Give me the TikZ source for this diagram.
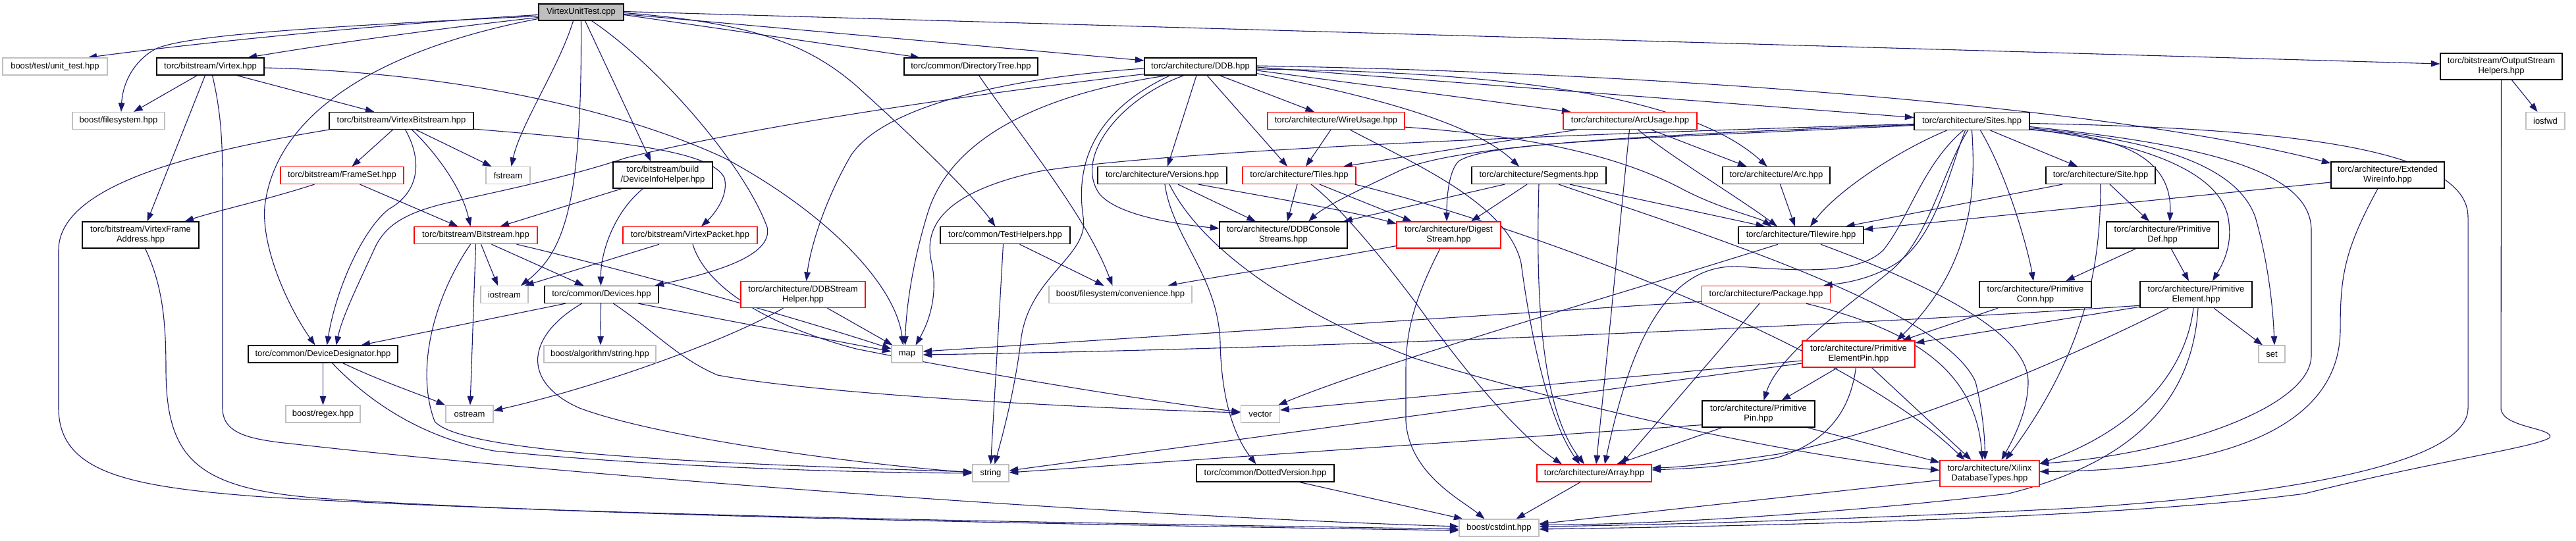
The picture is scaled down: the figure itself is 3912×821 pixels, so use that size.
\documentclass[tikz,border=0pt]{standalone}
\usepackage{fontspec}
\setmainfont{Liberation Sans}
\usetikzlibrary{arrows.meta,calc}
\pgfdeclarelayer{bg}
\pgfsetlayers{bg,main}
\definecolor{edgecol}{RGB}{25,25,112}
\definecolor{syscol}{RGB}{191,191,191}
\definecolor{rootfill}{RGB}{191,191,191}
\newcommand\fs{\fontsize{6.5}{7.5}\selectfont}
\newcommand\mynode[7]{\node[#1,minimum width=#5*0.5pt,minimum height=#6*0.5pt] (#2) at (#3,#4) {#7};}
\tikzset{
 nb/.style={draw, line width=0.6pt, fill=white, inner sep=0pt, align=center, font=\fs},
 blk/.style={nb, draw=black},
 redb/.style={nb, draw=red},
 sysb/.style={nb, draw=syscol},
 rootb/.style={nb, draw=black, fill=rootfill},
 e/.style={draw=edgecol, line width=0.55pt, -{Triangle[length=6.8pt,width=4.8pt]}}
}
\begin{document}
\begin{tikzpicture}[x=0.5pt,y=-0.5pt]
\useasboundingbox (0,0) rectangle (3912,821);
\mynode{rootb}{root}{882.5}{18.5}{129}{25}{VirtexUnitTest.cpp}
\mynode{sysb}{unit}{83.5}{101}{159}{26}{boost/test/unit\_test.hpp}
\mynode{blk}{virtex}{319.5}{101}{163}{26}{torc/bitstream/Virtex.hpp}
\mynode{blk}{dirtree}{1474.5}{101}{203}{26}{torc/common/DirectoryTree.hpp}
\mynode{blk}{ddb}{1823}{101}{170}{26}{torc/architecture/DDB.hpp}
\mynode{blk}{osh}{3798.5}{101}{185}{40}{torc/bitstream/OutputStream\\Helpers.hpp}
\mynode{sysb}{bfs}{180}{183.5}{140}{26}{boost/filesystem.hpp}
\mynode{blk}{vbs}{609.5}{183.5}{219}{26}{torc/bitstream/VirtexBitstream.hpp}
\mynode{redb}{wu}{2029}{183.5}{208}{26}{torc/architecture/WireUsage.hpp}
\mynode{redb}{au}{2475.5}{183.5}{203}{26}{torc/architecture/ArcUsage.hpp}
\mynode{blk}{sites}{2994.5}{184.5}{175}{26}{torc/architecture/Sites.hpp}
\mynode{sysb}{iosfwd}{3865.5}{183.5}{59}{26}{iosfwd}
\mynode{redb}{frameset}{519.5}{266.5}{187}{26}{torc/bitstream/FrameSet.hpp}
\mynode{sysb}{fstream}{771.5}{266.5}{67}{26}{fstream}
\mynode{blk}{dih}{1006.5}{266}{151}{40}{torc/bitstream/build\\/DeviceInfoHelper.hpp}
\mynode{blk}{versions}{1765}{266.5}{196}{26}{torc/architecture/Versions.hpp}
\mynode{redb}{tiles}{1973}{266.5}{172}{26}{torc/architecture/Tiles.hpp}
\mynode{blk}{segments}{2337}{266.5}{204}{26}{torc/architecture/Segments.hpp}
\mynode{blk}{arc}{2697.5}{266.5}{163}{26}{torc/architecture/Arc.hpp}
\mynode{blk}{site}{3190}{266.5}{166}{26}{torc/architecture/Site.hpp}
\mynode{blk}{ewi}{3626}{266}{172}{40}{torc/architecture/Extended\\WireInfo.hpp}
\mynode{blk}{vfa}{213.5}{357}{177}{40}{torc/bitstream/VirtexFrame\\Address.hpp}
\mynode{redb}{bitstream}{722.5}{357.6}{187}{26}{torc/bitstream/Bitstream.hpp}
\mynode{redb}{vpacket}{1048}{357.6}{204}{26}{torc/bitstream/VirtexPacket.hpp}
\mynode{blk}{testh}{1526.5}{357.6}{197}{26}{torc/common/TestHelpers.hpp}
\mynode{blk}{ddbcs}{1949}{357}{194}{40}{torc/architecture/DDBConsole\\Streams.hpp}
\mynode{redb}{digest}{2200}{357}{158}{40}{torc/architecture/Digest\\Stream.hpp}
\mynode{blk}{tilewire}{2735}{357.6}{190}{26}{torc/architecture/Tilewire.hpp}
\mynode{blk}{pdef}{3284}{357}{170}{40}{torc/architecture/Primitive\\Def.hpp}
\mynode{sysb}{iostream}{766}{447.6}{72}{26}{iostream}
\mynode{blk}{devices}{913.5}{447.6}{173}{26}{torc/common/Devices.hpp}
\mynode{redb}{ddbsh}{1219.5}{447.6}{189}{40}{torc/architecture/DDBStream\\Helper.hpp}
\mynode{sysb}{conv}{1701.5}{447.6}{217}{26}{boost/filesystem/convenience.hpp}
\mynode{redb}{package}{2682}{447.6}{195}{26}{torc/architecture/Package.hpp}
\mynode{blk}{pconn}{3091}{447.6}{170}{40}{torc/architecture/Primitive\\Conn.hpp}
\mynode{blk}{pelem}{3335}{447.6}{170}{40}{torc/architecture/Primitive\\Element.hpp}
\mynode{blk}{devdes}{490.5}{538}{227}{26}{torc/common/DeviceDesignator.hpp}
\mynode{sysb}{balg}{911}{538}{170}{26}{boost/algorithm/string.hpp}
\mynode{sysb}{map}{1377.5}{538}{47}{26}{map}
\mynode{redb}{pepin}{2822.5}{538}{171}{40}{torc/architecture/Primitive\\ElementPin.hpp}
\mynode{sysb}{set}{3450}{538}{40}{26}{set}
\mynode{sysb}{regex}{490.5}{629}{113}{26}{boost/regex.hpp}
\mynode{sysb}{ostream}{713}{629}{72}{26}{ostream}
\mynode{sysb}{vector}{1914}{629}{59}{26}{vector}
\mynode{blk}{ppin}{2670.5}{629}{171}{40}{torc/architecture/Primitive\\Pin.hpp}
\mynode{sysb}{string}{1504.5}{719}{55}{26}{string}
\mynode{blk}{dotted}{1921.5}{719}{209}{26}{torc/common/DottedVersion.hpp}
\mynode{redb}{array}{2421}{719}{174}{26}{torc/architecture/Array.hpp}
\mynode{redb}{xdt}{3021.5}{719.5}{151}{40}{torc/architecture/Xilinx\\DatabaseTypes.hpp}
\mynode{sysb}{cstdint}{2276.5}{802}{121}{26}{boost/cstdint.hpp}
\begin{pgfonlayer}{bg}
% root
\draw[e] ($(root.west)+(0,4)$) .. controls (600,35) and (300,65) .. ($(unit.north)+(50,0)$);
\draw[e] ($(root.west)+(0,6)$) .. controls (450,42) and (275,55) .. (235,75) .. controls (200,95) and (186,130) .. ($(bfs.north)+(4,0)$);
\draw[e] ($(root.west)+(0,8)$) .. controls (650,45) and (480,70) .. ($(virtex.north)+(57,0)$);
\draw[e] ($(root.west)+(0,10)$) .. controls (600,70) and (420,160) .. (402,314) .. controls (397,380) and (440,470) .. ($(devdes.north)+(-12,0)$);
\draw[e] ($(root.south)+(-12,0)$) .. controls (850,100) and (790,190) .. ($(fstream.north)+(5,0)$);
\draw[e] (root.south) .. controls (884,300) and (860,380) .. ($(iostream.north)+(25,0)$);
\draw[e] ($(root.south)+(6,0)$) -- ($(dih.north)+(-18,0)$);
\draw[e] ($(root.south)+(16,0)$) .. controls (1000,100) and (1130,250) .. (1165,345) .. controls (1175,390) and (1080,415) .. ($(devices.north)+(81,0)$);
\draw[e] ($(root.east)+(0,1)$) .. controls (1150,35) and (1230,70) .. (1300,130) .. controls (1400,220) and (1480,300) .. ($(testh.north)+(-15,0)$);
\draw[e] ($(root.east)+(0,4)$) -- ($(dirtree.north)+(-78,0)$);
\draw[e] ($(root.east)+(0,3)$) -- ($(ddb.west)+(0,-9)$);
\draw[e] ($(root.east)+(0,-1)$) -- ($(osh.west)+(0,-4)$);
% virtex
\draw[e] ($(virtex.south)+(-20,0)$) -- ($(bfs.north)+(23,0)$);
\draw[e] ($(virtex.south)+(-8,0)$) -- ($(vfa.north)+(10,0)$);
\draw[e] ($(virtex.south)+(3,0)$) .. controls (338,180) and (338,230) .. (338,300) -- (338,620) .. controls (338,660) and (380,668) .. (450,675) .. controls (800,715) and (1600,780) .. ($(cstdint.west)+(0,-2)$);
\draw[e] ($(virtex.south)+(40,0)$) -- ($(vbs.north)+(-41,0)$);
\draw[e] ($(virtex.east)+(0,2)$) .. controls (700,110) and (950,170) .. (1100,240) .. controls (1250,320) and (1360,430) .. ($(map.north)+(-6,0)$);
% vbs
\draw[e] (vbs.south west) .. controls (300,230) and (89,280) .. (89,380) -- (89,620) .. controls (89,720) and (200,740) .. (400,755) .. controls (900,785) and (1700,795) .. ($(cstdint.west)+(0,2)$);
\draw[e] ($(vbs.south)+(-13,0)$) -- ($(frameset.north)+(15,0)$);
\draw[e] ($(vbs.south)+(6,0)$) .. controls (640,240) and (640,290) .. (590,318) .. controls (550,350) and (510,440) .. ($(devdes.north)+(6,0)$);
\draw[e] ($(vbs.south)+(16,0)$) .. controls (655,225) and (700,280) .. ($(bitstream.north)+(-8,0)$);
\draw[e] ($(vbs.south)+(22,0)$) -- ($(fstream.north)+(-25,0)$);
\draw[e] ($(vbs.south east)+(0,-1)$) .. controls (950,215) and (1080,230) .. (1100,270) .. controls (1108,300) and (1080,330) .. ($(vpacket.north)+(17,0)$);
% frameset
\draw[e] ($(frameset.south)+(-42,0)$) .. controls (400,305) and (330,320) .. ($(vfa.north)+(67,0)$);
\draw[e] ($(frameset.south)+(27,0)$) -- ($(bitstream.north)+(-27,0)$);
% vfa
\draw[e] ($(vfa.south)+(7,0)$) .. controls (245,430) and (252,480) .. (252,560) .. controls (252,700) and (300,745) .. (500,758) .. controls (900,785) and (1700,798) .. ($(cstdint.west)+(0,4)$);
% bitstream
\draw[e] ($(bitstream.south)+(-8,0)$) .. controls (660,450) and (630,560) .. (660,640) .. controls (700,690) and (1100,705) .. ($(string.west)+(0,-2)$);
\draw[e] (bitstream.south) -- ($(ostream.north)+(1,0)$);
\draw[e] ($(bitstream.south)+(8,0)$) -- ($(iostream.north)+(-10,0)$);
\draw[e] ($(bitstream.south)+(24,0)$) -- ($(devices.north)+(-27,0)$);
\draw[e] ($(bitstream.south)+(62,0)$) .. controls (950,410) and (1200,480) .. ($(map.west)+(0,-8)$);
% devices
\draw[e] ($(devices.south)+(-55,0)$) -- ($(devdes.north)+(58,0)$);
\draw[e] ($(devices.south)+(-30,0)$) .. controls (800,510) and (790,580) .. (880,620) .. controls (1000,665) and (1300,705) .. ($(string.west)+(0,-1)$);
\draw[e] ($(devices.south)+(-1,0)$) -- ($(balg.north)+(1,0)$);
\draw[e] ($(devices.south)+(18,0)$) .. controls (990,500) and (1030,545) .. (1090,570) .. controls (1250,600) and (1650,620) .. ($(vector.west)+(0,-2)$);
\draw[e] ($(devices.south)+(56,0)$) -- ($(map.west)+(0,-4)$);
% devdes
\draw[e] (devdes.south) -- (regex.north);
\draw[e] ($(devdes.south)+(30,0)$) .. controls (580,580) and (640,600) .. ($(ostream.north)+(-37,0)$);
\draw[e] ($(devdes.south)+(14,0)$) .. controls (560,610) and (640,665) .. (750,685) .. controls (1000,710) and (1300,718) .. (string.west);
% dih
\draw[e] ($(dih.south)+(-62,0)$) -- ($(bitstream.north)+(37,0)$);
\draw[e] ($(dih.south)+(-30,0)$) .. controls (935,320) and (912,380) .. ($(devices.north)+(-1,0)$);
% vpacket
\draw[e] ($(vpacket.south)+(-47,0)$) -- ($(iostream.north)+(31,0)$);
\draw[e] ($(vpacket.south)+(4,0)$) .. controls (1070,430) and (1150,490) .. (1300,530) .. controls (1500,570) and (1750,610) .. ($(vector.west)+(0,-3)$);
% ddbsh
\draw[e] ($(ddbsh.south)+(37,0)$) -- ($(map.north)+(-22,0)$);
\draw[e] ($(ddbsh.south)+(-30,0)$) .. controls (1100,520) and (900,590) .. ($(ostream.east)+(0,-5)$);
% testh
\draw[e] ($(testh.south)+(-3,0)$) -- (string.north);
\draw[e] ($(testh.south)+(22,0)$) -- ($(conv.north)+(-25,0)$);
% dirtree
\draw[e] ($(dirtree.south)+(12,0)$) .. controls (1560,220) and (1650,330) .. ($(conv.north)+(-12,0)$);
% ddb
\draw[e] ($(ddb.south west)+(0,-2)$) .. controls (1500,140) and (1150,190) .. (950,240) .. controls (860,270) and (760,290) .. (676,309) .. controls (610,325) and (585,345) .. (570,375) .. controls (545,430) and (520,480) .. ($(devdes.north)+(20,0)$);
\draw[e] ($(ddb.west)+(0,3)$) .. controls (1500,120) and (1330,170) .. (1290,240) .. controls (1250,310) and (1230,380) .. ($(ddbsh.north)+(5,0)$);
\draw[e] ($(ddb.south)+(-50,0)$) .. controls (1600,140) and (1450,200) .. (1410,320) .. controls (1385,400) and (1376,470) .. ($(map.north)+(-3,0)$);
\draw[e] ($(ddb.south)+(-46,0)$) .. controls (1680,160) and (1630,230) .. (1645,330) .. controls (1655,390) and (1560,420) .. (1550,520) .. controls (1540,600) and (1520,670) .. ($(string.north)+(6,0)$);
\draw[e] ($(ddb.south)+(-25,0)$) .. controls (1700,150) and (1630,240) .. (1670,295) .. controls (1700,330) and (1800,342) .. ($(ddbcs.west)+(0,-10)$);
\draw[e] ($(ddb.south)+(-6,0)$) -- ($(versions.north)+(8,0)$);
\draw[e] ($(ddb.south)+(10,0)$) -- ($(tiles.north)+(-18,0)$);
\draw[e] ($(ddb.south)+(29,0)$) -- ($(wu.north)+(-33,0)$);
\draw[e] ($(ddb.south east)+(0,-3)$) .. controls (2050,140) and (2230,180) .. ($(segments.north)+(-30,0)$);
\draw[e] ($(ddb.east)+(0,6)$) -- ($(au.north)+(-90,0)$);
\draw[e] ($(ddb.east)+(0,4)$) .. controls (2200,108) and (2550,130) .. ($(arc.north)+(-14,0)$);
\draw[e] ($(ddb.east)+(0,1)$) -- ($(sites.west)+(0,-6)$);
\draw[e] ($(ddb.east)+(0,-1)$) .. controls (2500,110) and (3200,160) .. ($(ewi.west)+(0,-18)$);
% wu
\draw[e] ($(wu.south)+(-8,0)$) -- ($(tiles.north)+(10,0)$);
\draw[e] ($(wu.south)+(21,0)$) .. controls (2150,250) and (2290,310) .. (2310,400) .. controls (2330,550) and (2360,650) .. ($(array.north)+(-22,0)$);
\draw[e] ($(wu.south east)+(0,-4)$) .. controls (2300,205) and (2450,230) .. (2560,290) .. controls (2620,320) and (2670,330) .. ($(tilewire.north)+(-45,0)$);
% tiles
\draw[e] ($(tiles.south)+(-3,0)$) -- ($(ddbcs.north)+(6,0)$);
\draw[e] ($(tiles.south)+(31,0)$) -- ($(digest.north)+(-56,0)$);
\draw[e] ($(tiles.south)+(18,0)$) .. controls (2030,310) and (2090,380) .. (2150,460) .. controls (2250,600) and (2320,670) .. ($(array.north)+(-49,0)$);
\draw[e] ($(tiles.south east)+(-2,0)$) .. controls (2300,340) and (2800,520) .. ($(xdt.north)+(-38,0)$);
% segments
\draw[e] ($(segments.south)+(-52,0)$) -- ($(ddbcs.north)+(91,0)$);
\draw[e] ($(segments.south)+(-18,0)$) -- ($(digest.north)+(34,0)$);
\draw[e] (segments.south) .. controls (2332,450) and (2340,620) .. ($(array.north)+(-15,0)$);
\draw[e] ($(segments.south)+(47,0)$) -- ($(tilewire.north)+(-55,0)$);
\draw[e] ($(segments.south)+(30,0)$) .. controls (2600,360) and (2950,470) .. (3000,580) .. controls (3010,620) and (3014,660) .. ($(xdt.north)+(-7,0)$);
% au
\draw[e] ($(au.south)+(-81,0)$) -- ($(tiles.north)+(67,0)$);
\draw[e] ($(au.south)+(-1,0)$) -- ($(array.north)+(3,0)$);
\draw[e] ($(au.south)+(12,0)$) .. controls (2540,240) and (2640,300) .. ($(tilewire.north)+(-36,0)$);
\draw[e] ($(au.south)+(32,0)$) -- ($(arc.north)+(-45,0)$);
% arc
\draw[e] ($(arc.south)+(6,0)$) -- ($(tilewire.north)+(-9,0)$);
% tilewire
\draw[e] ($(tilewire.south)+(-35,0)$) .. controls (2450,450) and (2100,550) .. ($(vector.north east)+(-3,0)$);
\draw[e] ($(tilewire.south)+(30,0)$) .. controls (2950,440) and (3080,510) .. (3080,580) .. controls (3080,630) and (3050,680) .. ($(xdt.north)+(18,0)$);
% digest
\draw[e] ($(digest.south west)+(0,-4)$) .. controls (1950,405) and (1850,420) .. ($(conv.north)+(72,0)$);
\draw[e] ($(digest.south)+(-13,0)$) .. controls (2150,450) and (2135,500) .. (2135,560) -- (2135,640) .. controls (2140,720) and (2220,760) .. ($(cstdint.north)+(-22,0)$);
% versions
\draw[e] ($(versions.south)+(24,0)$) -- ($(ddbcs.north)+(-42,0)$);
\draw[e] ($(versions.south)+(55,0)$) .. controls (1900,295) and (2050,320) .. ($(digest.west)+(0,-17)$);
\draw[e] ($(versions.south)+(4,0)$) .. controls (1780,360) and (1850,420) .. (1853,520) .. controls (1855,620) and (1880,670) .. ($(dotted.north)+(-14,0)$);
\draw[e] ($(versions.south)+(11,0)$) .. controls (1820,370) and (1950,470) .. (2150,545) .. controls (2400,620) and (2700,690) .. ($(xdt.west)+(0,-5)$);
% dotted, array
\draw[e] ($(dotted.south)+(52,0)$) -- ($(cstdint.north)+(-55,0)$);
\draw[e] ($(array.south)+(-21,0)$) -- ($(cstdint.north)+(26,0)$);
% sites
\draw[e] ($(sites.west)+(0,5)$) .. controls (2500,205) and (2200,220) .. (2120,262) .. controls (2060,290) and (2010,315) .. ($(ddbcs.north)+(38,0)$);
\draw[e] ($(sites.west)+(0,6)$) .. controls (2500,210) and (2260,215) .. (2215,245) .. controls (2200,260) and (2197,300) .. ($(digest.north)+(-3,0)$);
\draw[e] ($(sites.west)+(0,4)$) .. controls (2500,200) and (1800,225) .. (1580,260) .. controls (1440,290) and (1400,340) .. (1415,400) .. controls (1425,450) and (1410,490) .. ($(map.north)+(13,0)$);
\draw[e] ($(sites.south)+(-38,0)$) .. controls (2880,230) and (2790,290) .. ($(tilewire.north)+(14,0)$);
\draw[e] ($(sites.south)+(-13,0)$) .. controls (2920,250) and (2900,330) .. (2860,380) .. controls (2820,420) and (2720,410) .. (2640,405) .. controls (2520,400) and (2470,550) .. ($(array.north)+(16,0)$);
\draw[e] ($(sites.south)+(-10,0)$) .. controls (2960,260) and (2940,360) .. (2880,400) .. controls (2840,425) and (2800,430) .. ($(package.north)+(87,0)$);
\draw[e] ($(sites.south)+(-6,0)$) .. controls (2950,260) and (2930,360) .. (2873,410) .. controls (2800,470) and (2700,540) .. ($(ppin.north)+(8,0)$);
\draw[e] (sites.south) .. controls (3000,280) and (3000,400) .. ($(pepin.north)+(58,0)$);
\draw[e] ($(sites.south)+(13,0)$) .. controls (3050,270) and (3080,380) .. ($(pconn.north)+(-3,0)$);
\draw[e] ($(sites.south)+(28,0)$) -- ($(site.north)+(-35,0)$);
\draw[e] ($(sites.south east)+(0,-1)$) .. controls (3200,205) and (3300,230) .. ($(pdef.north)+(11,0)$);
\draw[e] ($(sites.south east)+(0,-2)$) .. controls (3280,220) and (3380,270) .. (3385,340) .. controls (3390,380) and (3370,410) .. ($(pelem.north)+(25,0)$);
\draw[e] ($(sites.east)+(0,10)$) .. controls (3300,215) and (3400,260) .. (3425,330) .. controls (3445,400) and (3452,470) .. ($(set.north)+(4,0)$);
\draw[e] ($(sites.east)+(0,8)$) .. controls (3350,220) and (3510,260) .. (3510,350) -- (3510,540) .. controls (3510,620) and (3300,690) .. ($(xdt.east)+(0,-15)$);
\draw[e] ($(sites.east)+(0,3)$) .. controls (3500,195) and (3748,230) .. (3748,330) -- (3748,620) .. controls (3748,700) and (3500,750) .. (3150,772) .. controls (2800,790) and (2500,798) .. ($(cstdint.east)+(0,-2)$);
% site
\draw[e] ($(site.south)+(-58,0)$) -- ($(tilewire.north)+(68,0)$);
\draw[e] (site.south) .. controls (3190,400) and (3170,530) .. ($(xdt.north)+(24,0)$);
\draw[e] ($(site.south)+(14,0)$) -- ($(pdef.north)+(-20,0)$);
% ewi
\draw[e] ($(ewi.west)+(0,11)$) -- ($(tilewire.east)+(0,-9)$);
\draw[e] ($(ewi.south)+(-15,0)$) .. controls (3560,380) and (3554,420) .. (3554,500) .. controls (3554,680) and (3300,715) .. ($(xdt.east)+(0,-3)$);
% pdef
\draw[e] ($(pdef.south)+(-40,0)$) -- ($(pconn.north)+(46,0)$);
\draw[e] ($(pdef.south)+(13,0)$) -- ($(pelem.north)+(-11,0)$);
% pconn
\draw[e] ($(pconn.south)+(-57,0)$) -- ($(pepin.north)+(66,0)$);
% pelem
\draw[e] ($(pelem.south west)+(0,-4)$) .. controls (2800,495) and (2000,530) .. ($(map.east)+(0,1)$);
\draw[e] ($(pelem.south west)+(0,-2)$) -- ($(pepin.east)+(0,-17)$);
\draw[e] ($(pelem.south)+(-42,0)$) .. controls (3150,540) and (2900,650) .. (2700,690) .. controls (2600,705) and (2550,710) .. ($(array.east)+(0,-8)$);
\draw[e] ($(pelem.south)+(-4,0)$) .. controls (3320,560) and (3250,650) .. ($(xdt.east)+(0,-15)$);
\draw[e] ($(pelem.south)+(3,0)$) .. controls (3330,600) and (3250,700) .. (3050,750) .. controls (2800,780) and (2500,798) .. ($(cstdint.east)+(0,-5)$);
\draw[e] ($(pelem.south)+(27,0)$) -- ($(set.north)+(-14,0)$);
% package
\draw[e] ($(package.south west)+(0,-3)$) -- ($(map.east)+(0,-4)$);
\draw[e] ($(package.south)+(-10,0)$) -- ($(array.north)+(41,0)$);
\draw[e] ($(package.south)+(61,0)$) .. controls (2900,500) and (3000,560) .. ($(xdt.north)+(-11,0)$);
% pepin
\draw[e] ($(pepin.west)+(0,10)$) -- ($(vector.east)+(0,-6)$);
\draw[e] ($(pepin.west)+(0,14)$) -- ($(string.east)+(0,-4)$);
\draw[e] ($(pepin.south)+(-32,0)$) -- ($(ppin.north)+(35,0)$);
\draw[e] ($(pepin.south)+(-4,0)$) .. controls (2810,620) and (2780,670) .. (2700,695) .. controls (2620,710) and (2560,712) .. ($(array.east)+(0,-5)$);
\draw[e] ($(pepin.south)+(20,0)$) -- ($(xdt.north)+(-28,0)$);
% ppin
\draw[e] ($(ppin.south west)+(0,-4)$) -- ($(string.east)+(0,-1)$);
\draw[e] ($(ppin.south)+(-55,0)$) -- ($(array.north)+(34,0)$);
\draw[e] ($(ppin.south)+(74,0)$) -- ($(xdt.west)+(0,-17)$);
% xdt
\draw[e] ($(xdt.west)+(0,10)$) -- ($(cstdint.east)+(0,-6)$);
% osh
\draw[e] ($(osh.south)+(16,0)$) -- ($(iosfwd.north)+(-12,0)$);
\draw[e] (osh.south) -- (3798,620) .. controls (3798,650) and (3880,650) .. (3872,665) .. controls (3850,680) and (3700,700) .. (3500,750) .. controls (3200,790) and (2600,800) .. ($(cstdint.east)+(0,2)$);
\end{pgfonlayer}
\end{tikzpicture}
\end{document}
